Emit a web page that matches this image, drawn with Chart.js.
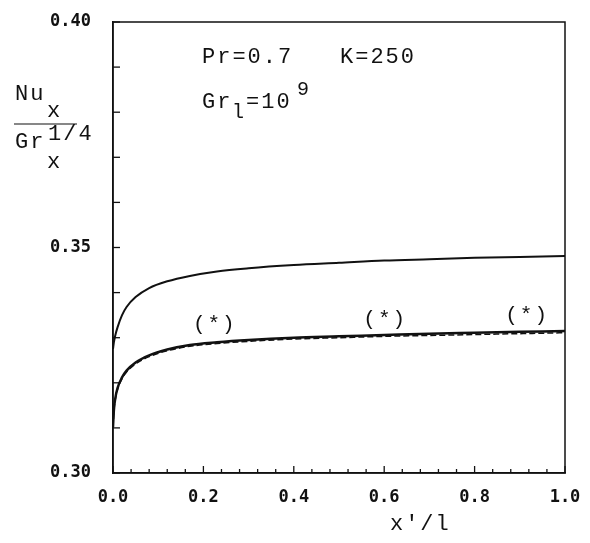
<!DOCTYPE html>
<html>
<head>
<meta charset="utf-8">
<script src="https://cdn.jsdelivr.net/npm/chart.js@4/dist/chart.umd.min.js"></script>
<style>
  html, body { margin: 0; background: #fff; }
  #wrap { width: 590px; height: 543px; }
</style>
</head>
<body>
<div id="wrap"><canvas id="nuChart"></canvas></div>
<script>
// x'/l positions
const xPos = [0, 0.002, 0.005, 0.01, 0.02, 0.03, 0.05, 0.08, 0.12, 0.17, 0.23, 0.3, 0.4, 0.5, 0.6, 0.7, 0.8, 0.9, 1.0];
const upperNu = [0.3275, 0.3290, 0.3305, 0.3323, 0.3350, 0.3368, 0.3390, 0.3410, 0.3425, 0.3437, 0.3447, 0.3454, 0.3461, 0.3466, 0.3471, 0.3474, 0.3477, 0.3479, 0.3481];
const lowerNu = [0.3102, 0.3140, 0.3165, 0.3188, 0.3212, 0.3227, 0.3245, 0.3261, 0.3274, 0.3284, 0.3290, 0.3295, 0.3300, 0.3303, 0.3306, 0.3309, 0.3311, 0.3313, 0.3315];
const lowerDashedNu = [0.3100, 0.3137, 0.3162, 0.3185, 0.3209, 0.3224, 0.3242, 0.3258, 0.3271, 0.3281, 0.3287, 0.3292, 0.3297, 0.3300, 0.3303, 0.3305, 0.3307, 0.3309, 0.3311];

const xTickLabels = ['0.0', '0.2', '0.4', '0.6', '0.8', '1.0'];
const yTickLabels = ['0.30', '0.35', '0.40'];

// "(*)" markers: x position, y value
const starX = [0.223, 0.60, 0.914];
const starY = [0.3330, 0.3341, 0.3350];

const INK = '#111';
const MONO = '"Liberation Mono", "DejaVu Sans Mono", monospace';

function toPoints(ys) {
  return xPos.map((x, i) => ({ x: x, y: ys[i] }));
}

function line(ctx, x1, y1, x2, y2) {
  ctx.beginPath();
  ctx.moveTo(x1, y1);
  ctx.lineTo(x2, y2);
  ctx.stroke();
}

function text(ctx, s, x, y, size, spacing) {
  ctx.font = size + 'px ' + MONO;
  ctx.letterSpacing = (spacing || 0) + 'px';
  ctx.fillText(s, x, y);
}

function noPad(s) {
  s.paddingTop = 0;
  s.paddingBottom = 0;
  s.paddingLeft = 0;
  s.paddingRight = 0;
}

const framePlugin = {
  id: 'frame',
  afterDraw(chart) {
    const { ctx, chartArea: a, scales: { x, y } } = chart;
    ctx.save();
    ctx.strokeStyle = INK;
    ctx.fillStyle = INK;
    ctx.lineWidth = 1.5;
    ctx.strokeRect(a.left, a.top, a.right - a.left, a.bottom - a.top);

    // inward ticks
    ctx.lineWidth = 1.3;
    y.ticks.forEach(t => {
      const py = y.getPixelForValue(t.value);
      line(ctx, a.left, py, a.left + 7, py);
    });
    x.ticks.forEach(t => {
      const px = x.getPixelForValue(t.value);
      const major = Math.round(t.value * 100) % 20 === 0;
      line(ctx, px, a.bottom, px, a.bottom - (major ? 7 : 4));
    });

    ctx.textAlign = 'left';
    ctx.textBaseline = 'alphabetic';

    // y title: Nu_x / Gr_x^(1/4)
    text(ctx, 'Nu', 15, 100, 22, 2);
    text(ctx, 'x', 47, 117, 22, 2);
    ctx.lineWidth = 1.2;
    line(ctx, 14, 124, 77, 124);
    text(ctx, 'Gr', 15, 148, 22, 2);
    text(ctx, '1/4', 48, 140, 22, 2);
    text(ctx, 'x', 47, 168, 22, 2);

    // parameters
    text(ctx, 'Pr=0.7', 202, 63, 22, 2);
    text(ctx, 'K=250', 340, 63, 22, 2);
    text(ctx, 'Gr', 202, 108, 22, 2);
    text(ctx, 'l', 232, 118, 20, 0);
    text(ctx, '=10', 246, 108, 22, 2);
    text(ctx, '9', 297, 95, 20, 0);

    // (*) markers
    ctx.textAlign = 'center';
    ctx.textBaseline = 'middle';
    starX.forEach((sx, i) => {
      text(ctx, '(*)', x.getPixelForValue(sx) + 1, y.getPixelForValue(starY[i]), 21, 2);
    });

    // x title
    ctx.textBaseline = 'alphabetic';
    text(ctx, 'x\u2032/l', x.getPixelForValue(0.68), 530, 22, 2);
    ctx.restore();
  }
};

const ctx = document.getElementById('nuChart').getContext('2d');
const nuChart = new Chart(ctx, {
  type: 'line',
  data: {
    datasets: [
      {
        label: 'upper',
        data: toPoints(upperNu),
        borderColor: INK,
        borderWidth: 2,
        pointRadius: 0,
        cubicInterpolationMode: 'monotone'
      },
      {
        label: 'lower',
        data: toPoints(lowerNu),
        borderColor: INK,
        borderWidth: 2.5,
        pointRadius: 0,
        cubicInterpolationMode: 'monotone'
      },
      {
        label: 'lower dashed',
        data: toPoints(lowerDashedNu),
        borderColor: INK,
        borderWidth: 1.5,
        borderDash: [6, 3],
        pointRadius: 0,
        cubicInterpolationMode: 'monotone'
      }
    ]
  },
  options: {
    responsive: true,
    maintainAspectRatio: false,
    animation: false,
    layout: { padding: { top: 22, right: 25, left: 0, bottom: 0 } },
    plugins: { legend: { display: false }, tooltip: { enabled: false } },
    scales: {
      x: {
        type: 'linear',
        min: 0,
        max: 1,
        grid: { drawOnChartArea: false, drawTicks: false },
        border: { color: INK, width: 1.5 },
        ticks: {
          stepSize: 0.04,
          autoSkip: false,
          maxRotation: 0,
          padding: 14,
          color: INK,
          font: { family: '"DejaVu Sans Mono"', size: 17, weight: 'bold' },
          callback: v => {
            const k = Math.round(v * 100);
            return k % 20 === 0 ? xTickLabels[k / 20] : '';
          }
        },
        afterFit: s => { s.height = 70; noPad(s); }
      },
      y: {
        min: 0.30,
        max: 0.40,
        grid: { drawOnChartArea: false, drawTicks: false },
        border: { color: INK, width: 1.5 },
        ticks: {
          stepSize: 0.01,
          autoSkip: false,
          padding: 22,
          color: INK,
          font: { family: '"DejaVu Sans Mono"', size: 17, weight: 'bold' },
          callback: v => {
            const k = Math.round(v * 100);
            return k % 5 === 0 ? yTickLabels[(k - 30) / 5] : '';
          }
        },
        afterFit: s => { s.width = 113; noPad(s); }
      }
    }
  },
  plugins: [framePlugin]
});
</script>
</body>
</html>
